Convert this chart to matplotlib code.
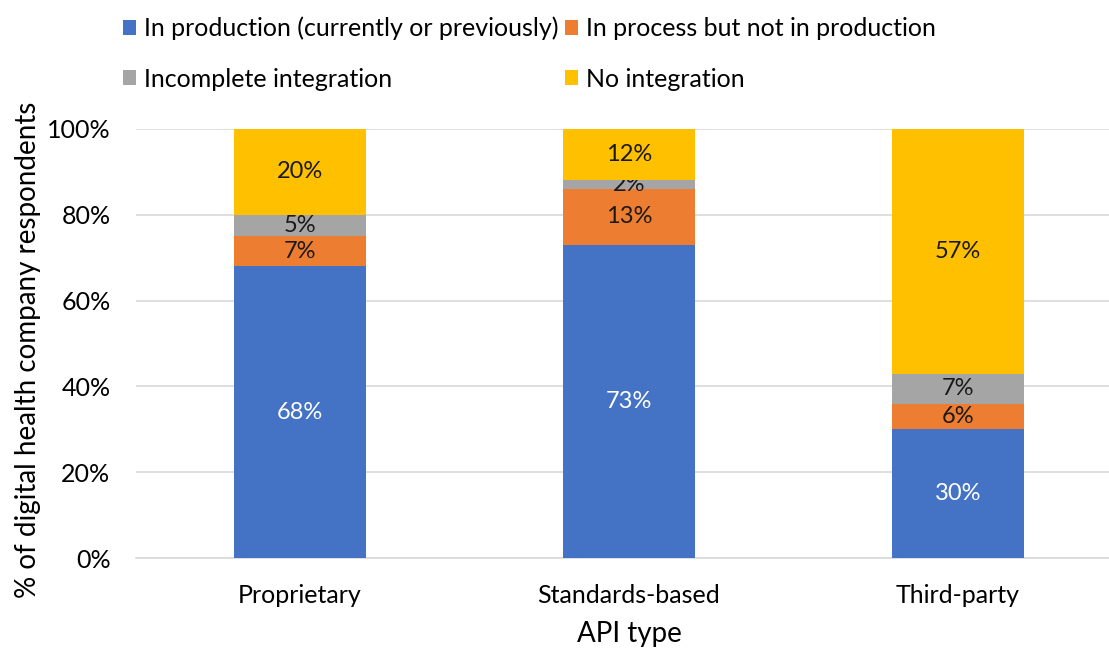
import matplotlib
matplotlib.use("Agg")
import matplotlib.pyplot as plt
import numpy as np
from matplotlib.patches import Patch

plt.rcParams['font.family'] = ['Lato', 'DejaVu Sans']

categories = ["Proprietary", "Standards-based", "Third-party"]
series_names = ["In production (currently or previously)", "In process but not in production",
                "Incomplete integration", "No integration"]
in_production = [68, 73, 30]
in_process = [7, 13, 6]
incomplete = [5, 2, 7]
no_integration = [20, 12, 57]
yticks = [0, 20, 40, 60, 80, 100]

colors = ["#4472C4", "#ED7D31", "#A5A5A5", "#FFC000"]
label_colors = ["white", "#1a1a1a", "#1a1a1a", "#1a1a1a"]

W, H = 1109, 650
fig = plt.figure(figsize=(W / 100, H / 100), dpi=100)
ax = fig.add_axes([135.5 / W, 1 - 558 / H, (1122.5 - 135.5) / W, (558 - 129) / H])

x = np.arange(len(categories))
bottom = np.zeros(len(categories))
handles = []
for vals, name, c, lc in zip([in_production, in_process, incomplete, no_integration],
                             series_names, colors, label_colors):
    vals = np.array(vals, dtype=float)
    bars = ax.bar(x, vals, 0.4, bottom=bottom, color=c, zorder=3, label=name)
    ax.bar_label(bars, labels=[f"{int(v)}%" for v in vals], label_type='center',
                 color=lc, fontsize=17)
    handles.append(Patch(facecolor=c, edgecolor='none'))
    bottom += vals

ax.set_xlim(-0.5, 2.5)
ax.set_ylim(0, 100)
ax.set_yticks(yticks)
ax.set_yticklabels([f"{t}%" for t in yticks], fontsize=18)
ax.set_xticks(x)
ax.set_xticklabels(categories, fontsize=18)
ax.tick_params(length=0)
ax.tick_params(axis='y', pad=18)
ax.tick_params(axis='x', pad=19)
ax.yaxis.grid(True, color="#D9D9D9", linewidth=1.2, zorder=0)
for s in ['top', 'right', 'left']:
    ax.spines[s].set_visible(False)
ax.spines['bottom'].set_color("#D9D9D9")
ax.spines['bottom'].set_linewidth(1.2)
ax.set_axisbelow(True)

ax.set_xlabel("API type", fontsize=20, labelpad=10)
fig.text(28 / W, 1 - 350 / H, "% of digital health company respondents", rotation=90,
         fontsize=20, ha='center', va='center')

order = [0, 2, 1, 3]
fig.legend([handles[i] for i in order], [series_names[i] for i in order],
           ncol=2, loc='upper left', bbox_to_anchor=(100 / W, 1 + 6 / H),
           frameon=False, fontsize=18, handlelength=0.55, handleheight=0.55,
           handletextpad=0.3, columnspacing=0.25, labelspacing=1.1)

fig.savefig("out.png", dpi=100)
